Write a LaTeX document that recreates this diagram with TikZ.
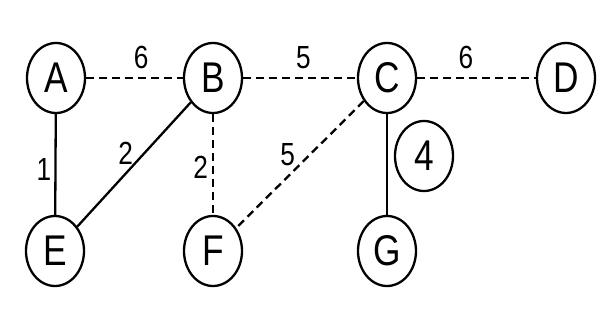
\documentclass[tikz,border=0pt]{standalone}
\usepackage{fontspec}
\usetikzlibrary{shapes.geometric}
\newfontfamily\graphfont[FakeStretch=0.82]{Liberation Sans}

\begin{document}
\begin{tikzpicture}[x=1pt, y=-1pt,
    vertex/.style={draw, ellipse, line width=2.3pt, minimum width=58pt, minimum height=70pt, inner sep=0pt, font=\graphfont\fontsize{43}{43}\selectfont},
    weight/.style={font=\graphfont\fontsize{32}{32}\selectfont, inner sep=2pt},
    tree edge/.style={line width=2.3pt},
    other edge/.style={line width=2.3pt, dash pattern=on 8pt off 5pt},
]
\useasboundingbox (0,0) rectangle (616,323);

% Vertices
\node[vertex] (A) at (56,78) {A};
\node[vertex] (B) at (213,78) {B};
\node[vertex] (C) at (387,78) {C};
\node[vertex] (D) at (566,78) {D};
\node[vertex] (E) at (55,251) {E};
\node[vertex] (F) at (213,251) {F};
\node[vertex] (G) at (387,251) {G};
\node[vertex] (four) at (424,156) {4};

% Chosen edges
\draw[tree edge] (A) -- node[weight, pos=0.55, left=1pt] {1} (E);
\draw[tree edge] (B) -- node[weight, pos=0.41, left=8pt] {2} (E);
\draw[tree edge] (C) -- (G);

% Remaining edges
\draw[other edge] (A) -- node[weight, pos=0.57, above=6pt] {6} (B);
\draw[other edge] (B) -- node[weight, pos=0.53, above=6pt] {5} (C);
\draw[other edge] (C) -- node[weight, pos=0.41, above=6pt] {6} (D);
\draw[other edge] (B) -- node[weight, pos=0.53, left=2pt] {2} (F);
\draw[other edge] (C) -- node[weight, pos=0.42, left=12pt] {5} (F);

\end{tikzpicture}
\end{document}
